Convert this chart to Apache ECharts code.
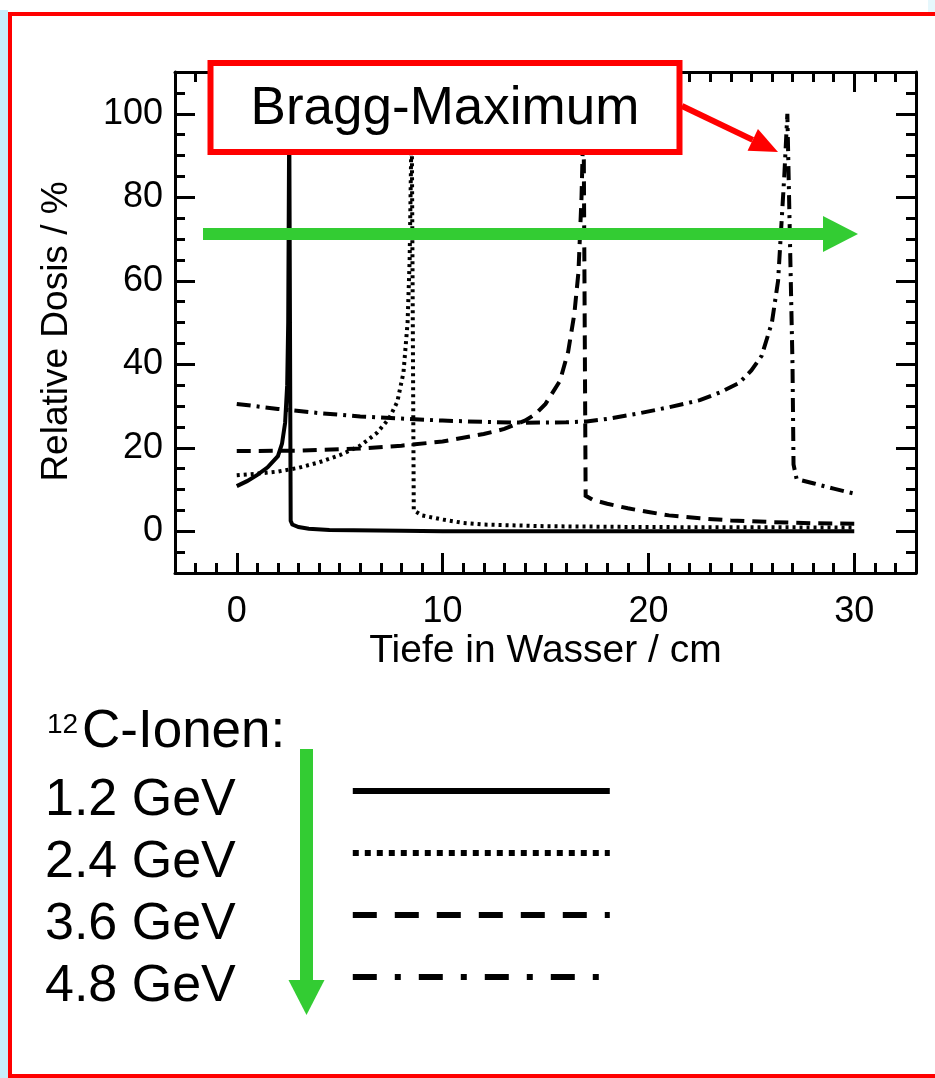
<!DOCTYPE html>
<html>
<head>
<meta charset="utf-8">
<script src="https://cdn.jsdelivr.net/npm/echarts@6/dist/echarts.min.js"></script>
<style>
html,body{margin:0;padding:0;background:#fff;}
#c{width:935px;height:1078px;}
</style>
</head>
<body>
<div id="c"></div>
<script>
// ---- data ----
const seriesNames = ['1.2 GeV', '2.4 GeV', '3.6 GeV', '4.8 GeV'];
const dose12 = [[0,10.8],[0.5,12],[1,13.5],[1.5,15.3],[2,18],[2.2,21],[2.35,26],[2.45,35],[2.5,50],[2.55,100],[2.62,2.5],[2.7,1.6],[3,1],[3.5,0.6],[4.5,0.3],[8,0.1],[10,0],[30,0]];
const dose24 = [[0,13.4],[1,13.8],[2,14.3],[3,15.2],[4,16.5],[5,18.2],[6,20.5],[6.8,23.5],[7.4,27],[7.8,31],[8.1,38],[8.3,50],[8.4,65],[8.5,100],[8.6,5],[9,3.8],[10,2.8],[11,2],[12,1.6],[15,1.2],[20,1],[30,0.9]];
const dose36 = [[0,19.2],[3,19.3],[6,19.8],[8,20.5],[10,21.5],[12,23.3],[13,24.5],[14,26.5],[14.5,28],[15,30.5],[15.7,36],[16.1,43],[16.4,52],[16.6,62],[16.75,80],[16.85,100],[16.95,8.5],[17.3,7.5],[18,6.6],[19,5.5],[20,4.6],[21,3.8],[22.5,3.1],[24,2.6],[26,2.2],[28,1.9],[30,1.8]];
const dose48 = [[0,30.5],[2,29.3],[4,28.3],[6,27.5],[8,27],[10,26.5],[12,26.2],[14,26],[16,26.1],[17,26.3],[18,26.9],[19.5,28.2],[21,29.7],[22.5,31.4],[23.5,33.3],[24.4,35.5],[25,38.5],[25.5,42],[26,50],[26.3,60],[26.6,85],[26.75,100],[27.0,40],[27.05,16],[27.2,12.5],[28,11.5],[29,10.2],[30,9]];
const xMajorTicks = [0, 10, 20, 30];
const xMinorTicks = [-2,-1,1,2,3,4,5,6,7,8,9,11,12,13,14,15,16,17,18,19,21,22,23,24,25,26,27,28,29,31,32];
const yMajorTicks = [0, 20, 40, 60, 80, 100];
const yMinorTicks = [-5,5,10,15,25,30,35,45,50,55,65,70,75,85,90,95,105];
const xTitle = 'Tiefe in Wasser / cm';
const yTitle = 'Relative Dosis / %';
const annotation = 'Bragg-Maximum';
const legendHead = 'C-Ionen:';
const legendSup = '12';

// ---- styles ----
const FONT = '"Liberation Sans", Arial, Helvetica, sans-serif';
const lineDash = ['solid', [3, 4], [14, 8], [14, 6, 3, 6]];
const legendDash = ['solid', [6, 6], [24, 18], [24, 18, 6, 18]];
const GREEN = '#33cc33';
const RED = '#ff0000';

function xAxisDef(pos, ticks, len, main) {
  return {
    type: 'value', position: pos, min: -3, max: 33,
    axisLine: {show: main, onZero: false, lineStyle: {color: '#000', width: 3}},
    axisTick: {show: true, inside: true, length: len, customValues: ticks, lineStyle: {color: '#000', width: 3}},
    axisLabel: (main && pos === 'bottom') ? {show: true, customValues: xMajorTicks, color: '#000', fontSize: 36, fontFamily: FONT, margin: 21} : {show: false},
    splitLine: {show: false},
    name: (main && pos === 'bottom') ? xTitle : '',
    nameLocation: 'middle', nameGap: 59,
    nameTextStyle: {color: '#000', fontSize: 39, fontFamily: FONT}
  };
}
function yAxisDef(pos, ticks, len, main) {
  return {
    type: 'value', position: pos, min: -10, max: 110,
    axisLine: {show: main, onZero: false, lineStyle: {color: '#000', width: 3}},
    axisTick: {show: true, inside: true, length: len, customValues: ticks, lineStyle: {color: '#000', width: 3}},
    axisLabel: (main && pos === 'left') ? {show: true, customValues: yMajorTicks, color: '#000', fontSize: 36, fontFamily: FONT, margin: 12} : {show: false},
    splitLine: {show: false},
    name: (main && pos === 'left') ? yTitle : '',
    nameLocation: 'middle', nameGap: 100,
    nameTextStyle: {color: '#000', fontSize: 37, fontFamily: FONT, padding: [0, 18, 0, 0]}
  };
}

const dataSets = [dose12, dose24, dose36, dose48];
const series = dataSets.map((d, i) => ({
  name: seriesNames[i],
  type: 'line',
  data: d,
  symbol: 'none',
  showSymbol: false,
  clip: true,
  lineStyle: {color: '#000', width: 4, type: lineDash[i], cap: 'butt', join: 'miter'},
  itemStyle: {color: '#000'},
  z: 3
}));

// arrow geometry helpers (annotation layout, pixel space)
const redTail = [682, 106], redTip = [778, 152];
const dx = redTip[0] - redTail[0], dy = redTip[1] - redTail[1];
const L = Math.hypot(dx, dy), ux = dx / L, uy = dy / L;
const hb = [redTip[0] - 28 * ux, redTip[1] - 28 * uy];

const chart = echarts.init(document.getElementById('c'), null, {renderer: 'canvas'});
chart.setOption({
  backgroundColor: '#fff',
  animation: false,
  grid: {left: 175, top: 72, width: 741, height: 501, containLabel: false},
  xAxis: [
    xAxisDef('bottom', xMajorTicks, 20, true),
    xAxisDef('bottom', xMinorTicks, 10, false),
    xAxisDef('top', xMajorTicks, 20, true),
    xAxisDef('top', xMinorTicks, 10, false)
  ],
  yAxis: [
    yAxisDef('left', yMajorTicks, 20, true),
    yAxisDef('left', yMinorTicks, 10, false),
    yAxisDef('right', yMajorTicks, 20, true),
    yAxisDef('right', yMinorTicks, 10, false)
  ],
  legend: {
    orient: 'vertical', align: 'right', left: 45, top: 755, padding: 0,
    itemWidth: 257, itemHeight: 14, itemGap: -10,
    selectedMode: false,
    formatter: '{t|{name}}',
    textStyle: {
      color: '#000', fontSize: 52, fontFamily: FONT,
      rich: {t: {color: '#000', fontSize: 52, fontFamily: FONT, lineHeight: 48, padding: [20, 112, 0, 0]}}
    },
    data: seriesNames.map((n, i) => ({
      name: n,
      itemStyle: {color: 'rgba(0,0,0,0)', opacity: 0, borderWidth: 0},
      lineStyle: {color: '#000', width: 6, type: legendDash[i], cap: 'butt', opacity: 1}
    }))
  },
  series: series,
  graphic: [
    {type: 'rect', z: -10, shape: {x: 0, y: 10, width: 8, height: 1068}, style: {fill: '#c8eefa'}},
    {type: 'rect', z: -10, shape: {x: 928, y: 0, width: 7, height: 12}, style: {fill: '#e6f7fc'}},
    {type: 'rect', z: 50, shape: {x: 10, y: 14, width: 940, height: 1062}, style: {fill: 'none', stroke: RED, lineWidth: 4}},
    // green horizontal arrow
    {type: 'rect', z: 40, shape: {x: 203, y: 228, width: 621, height: 12}, style: {fill: GREEN}},
    {type: 'polygon', z: 40, shape: {points: [[823, 216], [823, 252], [858, 234]]}, style: {fill: GREEN}},
    // Bragg box
    {type: 'rect', z: 60, shape: {x: 210.5, y: 63, width: 469, height: 89}, style: {fill: '#fff', stroke: RED, lineWidth: 6}},
    {type: 'text', z: 61, x: 445, y: 109, style: {text: annotation, fill: '#000', font: '53px ' + FONT, align: 'center', verticalAlign: 'middle'}},
    // red arrow
    {type: 'line', z: 60, shape: {x1: redTail[0], y1: redTail[1], x2: hb[0], y2: hb[1]}, style: {stroke: RED, lineWidth: 6}},
    {type: 'polygon', z: 60, shape: {points: [redTip, [hb[0] - 12 * uy, hb[1] + 12 * ux], [hb[0] + 12 * uy, hb[1] - 12 * ux]]}, style: {fill: RED}},
    // legend heading
    {type: 'text', z: 30, x: 47, y: 711, style: {text: legendSup, fill: '#000', font: '28px ' + FONT, verticalAlign: 'top'}},
    {type: 'text', z: 30, x: 82, y: 706, style: {text: legendHead, fill: '#000', font: '53px ' + FONT, verticalAlign: 'top'}},
    // green vertical arrow
    {type: 'rect', z: 40, shape: {x: 300, y: 749, width: 13, height: 232}, style: {fill: GREEN}},
    {type: 'polygon', z: 40, shape: {points: [[288.5, 980], [324.5, 980], [306.5, 1015]]}, style: {fill: GREEN}}
  ]
});
</script>
</body>
</html>
